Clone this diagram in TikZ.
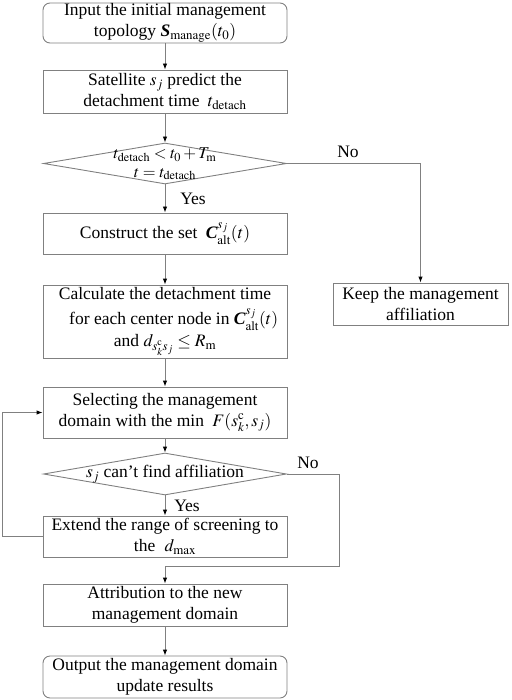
\documentclass[tikz,border=0pt]{standalone}
\usepackage{mathptmx}
\usepackage{fontspec}
\setmainfont{Liberation Serif}
\usetikzlibrary{shapes.geometric,arrows.meta}
\newcommand{\bi}[1]{\mbox{\bfseries\itshape #1}}
\begin{document}
\begin{tikzpicture}[x=1pt,y=-1pt,
  box/.style={draw=black!50, line width=0.9pt, minimum width=244pt, align=center, inner sep=0pt,
    font=\fontsize{17.5}{21}\selectfont},
  rbox/.style={box, rounded corners=7pt},
  dia/.style={draw=black!50, line width=0.9pt, diamond, minimum width=243pt, minimum height=41pt, inner sep=0pt},
  txt/.style={align=center, inner sep=0pt, font=\fontsize{17.5}{21}\selectfont},
  lbl/.style={inner sep=0pt, font=\fontsize{17.5}{20}\selectfont},
  line/.style={draw=black!50, line width=0.9pt},
  arr/.style={line, -{Latex[length=6pt,width=4.5pt,color=black]}}
]
\useasboundingbox (0,0) rectangle (511,700);

\node[rbox, minimum height=40pt] (start) at (165,23) {Input the initial management\\ topology $\bi{S}_{\mathrm{manage}}(t_0)$};
\node[box, minimum height=43pt] (pred) at (165,91.5) {Satellite $s_j$ predict the\\ detachment time $\;t_{\mathrm{detach}}$};
\node[dia] (d1) at (165,163.5) {};
\node[txt, font=\fontsize{16.5}{18.5}\selectfont] (d1t) at (165,164) {$t_{\mathrm{detach}} < t_0 + T_{\mathrm{m}}$\\ $t = t_{\mathrm{detach}}$};
\node[box, minimum height=41pt] (cons) at (165,233.5) {Construct the set $\;\bi{C}^{s_j}_{\mathrm{alt}}(t)$};
\node[box, minimum height=73pt, font=\fontsize{17.5}{22}\selectfont] (calc) at (165,321.5) {Calculate the detachment time\\[3pt] \quad for each center node in $\bi{C}^{s_j}_{\mathrm{alt}}(t)$\\ and $d_{s^{\mathrm{c}}_k s_j} \le R_{\mathrm{m}}$};
\node[box, minimum width=175pt, minimum height=42pt] (keep) at (420.5,304) {Keep the management\\ affiliation};
\node[box, minimum height=51pt] (sel) at (165,412.5) {Selecting the management\\ domain with the min $\;F(s^{\mathrm{c}}_k,s_j)$};
\node[dia, minimum height=42pt] (d2) at (165,474) {};
\node[txt] (d2t) at (165,474) {$s_j$ can’t find affiliation};
\node[box, minimum height=41pt] (ext) at (165,536.5) {Extend the range of screening to\\ the \;$d_{\mathrm{max}}$};
\node[box, minimum height=42pt] (attr) at (165,605) {Attribution to the new\\ management domain};
\node[rbox, minimum height=42pt] (out) at (165,677) {Output the management domain\\ update results};

\coordinate (c1) at (420.5,163.5);
\coordinate (c2) at (339,474);
\coordinate (c3) at (339,566);
\coordinate (c4) at (165,566);
\coordinate (c5) at (2.5,536.5);
\coordinate (c6) at (2.5,412.5);

\draw[arr] (start) -- (pred);
\draw[arr] (pred) -- (d1);
\draw[arr] (d1) -- (cons);
\draw[arr] (cons) -- (calc);
\draw[arr] (calc) -- (sel);
\draw[arr] (sel) -- (d2);
\draw[arr] (d2) -- (ext);
\draw[arr] (attr) -- (out);
\draw[arr] (d1.east) -- (c1) -- (keep.north);
\draw[arr] (d2.east) -- (c2) -- (c3) -- (c4) -- (attr.north);
\draw[arr] (ext.west) -- (c5) -- (c6) -- (sel.west);

\node[lbl] (no1) at (348,152) {No};
\node[lbl] (yes1) at (193,199) {Yes};
\node[lbl] (no2) at (308,463) {No};
\node[lbl] (yes2) at (187,506) {Yes};
\end{tikzpicture}
\end{document}
